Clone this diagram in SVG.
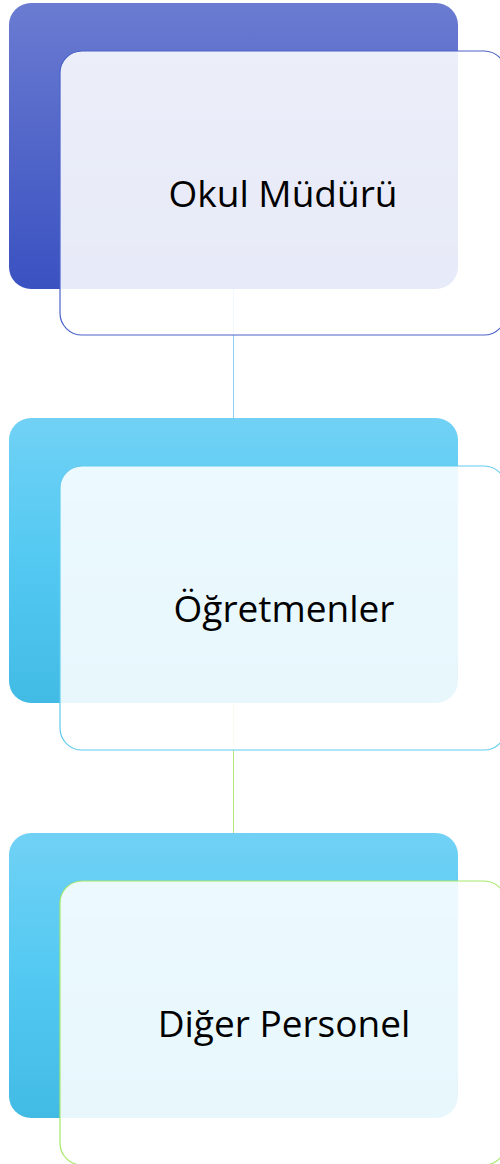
<svg xmlns="http://www.w3.org/2000/svg" width="500" height="1164" viewBox="0 0 500 1164">
<style>
.lbl{font-family:"Open Sans","Noto Sans","Liberation Sans",sans-serif;font-size:37px;fill:#000;text-anchor:middle}
.front{fill:#ffffff;fill-opacity:0.88;stroke-width:1.2}
</style>
<defs>
<linearGradient id="gBlue" x1="0" y1="0" x2="0" y2="1">
<stop offset="0" stop-color="#6a7bd1"/><stop offset="1" stop-color="#3a51c1"/>
</linearGradient>
<linearGradient id="gCyan" x1="0" y1="0" x2="0" y2="1">
<stop offset="0" stop-color="#71d1f5"/><stop offset="0.5" stop-color="#53c9f2"/><stop offset="1" stop-color="#42bbe4"/>
</linearGradient>
</defs>
<g id="connectors" fill="none" stroke-width="1">
<line x1="233.5" y1="289" x2="233.5" y2="418" stroke="#8fd0f0"/>
<line x1="233.5" y1="703" x2="233.5" y2="833" stroke="#b5e880"/>
</g>
<g id="node1">
<rect x="9" y="3" width="449" height="286" rx="22" fill="url(#gBlue)"/>
<rect class="front" x="60" y="51" width="446" height="284" rx="22" stroke="#4a62c8"/>
<text class="lbl" x="283" y="207">Okul Müdürü</text>
</g>
<g id="node2">
<rect x="9" y="418" width="449" height="285" rx="22" fill="url(#gCyan)"/>
<rect class="front" x="60" y="466" width="446" height="284" rx="22" stroke="#62cbef"/>
<text class="lbl" x="284" y="622">Öğretmenler</text>
</g>
<g id="node3">
<rect x="9" y="833" width="449" height="285" rx="22" fill="url(#gCyan)"/>
<rect class="front" x="60" y="881" width="446" height="284" rx="22" stroke="#a5e86c"/>
<text class="lbl" x="284" y="1037">Diğer Personel</text>
</g>
</svg>
